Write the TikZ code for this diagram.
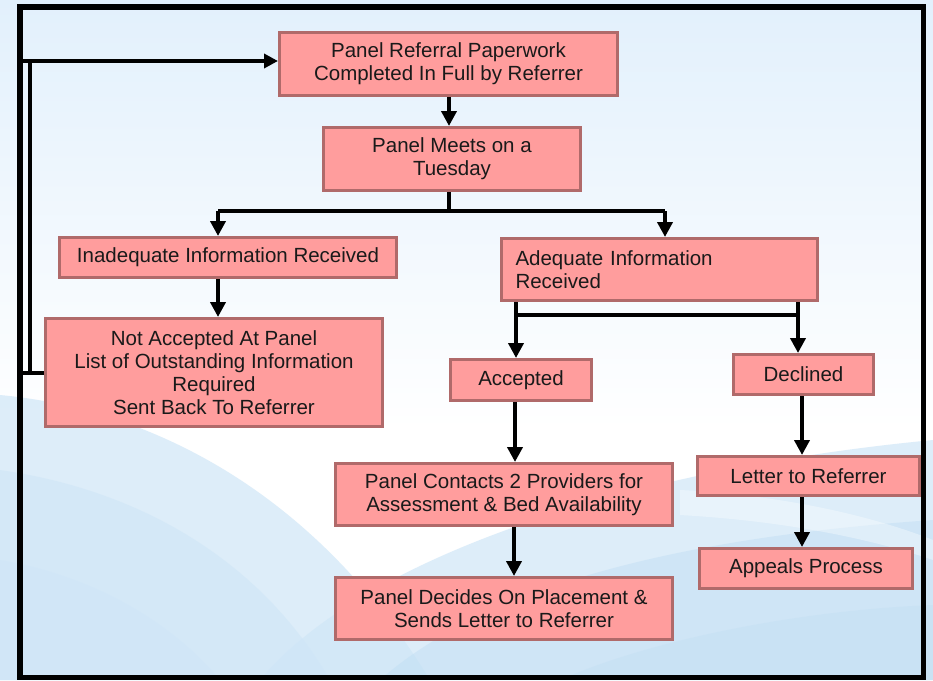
\documentclass[tikz,border=0pt]{standalone}
\usepackage{fontspec}
\setmainfont{Liberation Sans}
\usetikzlibrary{arrows.meta}
\definecolor{boxfill}{HTML}{FF9D9D}
\definecolor{boxline}{HTML}{B06A6A}
\definecolor{bgtop}{HTML}{E2F0FC}
\definecolor{waveA}{HTML}{CFE6F7}
\definecolor{waveB}{HTML}{BFDDF3}
\definecolor{txt}{HTML}{1A1A1A}
\tikzset{
  fbox/.style 2 args={draw=boxline, fill=boxfill, line width=3pt, inner sep=0pt,
    minimum width=#1pt-3pt, minimum height=#2pt-3pt, align=center, text=txt,
    font=\fontsize{20.5}{23}\selectfont},
  conn/.style={line width=4.5pt, draw=black},
  arr/.style={conn, -{Triangle[width=15pt,length=15pt]}},
}
\begin{document}
\begin{tikzpicture}[x=1pt,y=-1pt]
% background
\useasboundingbox (0,0) rectangle (933,680);
\fill[top color=bgtop, bottom color=white] (0,0) rectangle (933,430);
\fill[white] (0,430) rectangle (933,680);
\fill[waveA, opacity=0.7] (0,395) .. controls (160,410) and (320,500) .. (430,680) -- (0,680) -- cycle;
\fill[waveA, opacity=0.6] (0,470) .. controls (140,490) and (260,560) .. (330,680) -- (0,680) -- cycle;
\fill[waveA, opacity=0.6] (0,560) .. controls (90,575) and (170,620) .. (220,680) -- (0,680) -- cycle;
\fill[waveA, opacity=0.7] (260,680) .. controls (360,560) and (620,470) .. (933,440) -- (933,680) -- cycle;
\fill[waveB, opacity=0.45] (380,680) .. controls (470,600) and (640,540) .. (933,520) -- (933,680) -- cycle;
\fill[white, opacity=0.35] (680,490) .. controls (780,495) and (870,515) .. (933,540) -- (933,560) .. controls (860,535) and (770,520) .. (680,515) -- cycle;
\fill[waveB, opacity=0.35] (560,680) .. controls (650,640) and (800,610) .. (933,605) -- (933,680) -- cycle;

% nodes
\node[fbox={341}{66}] (paper) at (448.5,64) {Panel Referral Paperwork\\Completed In Full by Referrer};
\node[fbox={260}{66}] (tues) at (452,159) {Panel Meets on a\\Tuesday};
\node[fbox={340}{43}] (inad) at (228,257.5) {Inadequate Information Received};
\node[fbox={340}{111}] (notacc) at (214,372.5) {Not Accepted At Panel\\List of Outstanding Information\\Required\\Sent Back To Referrer};
\node[fbox={319}{65}, align=left, text width=288pt, inner xsep=14pt] (adeq) at (659.5,269.5) {Adequate Information\\Received};
\node[fbox={144}{44}] (acc) at (521,380) {Accepted};
\node[fbox={143}{43}] (decl) at (803.5,374.5) {Declined};
\node[fbox={340}{65}] (contacts) at (504,494.5) {Panel Contacts 2 Providers for\\Assessment \& Bed Availability};
\node[fbox={340}{65}] (decides) at (504,608.5) {Panel Decides On Placement \&\\Sends Letter to Referrer};
\node[fbox={225}{42}] (letter) at (808.5,476) {Letter to Referrer};
\node[fbox={216}{43}] (appeals) at (806,568.5) {Appeals Process};

% junction coordinates
\coordinate (j1) at (449,211);
\coordinate (jl) at (218,211);
\coordinate (jr) at (665,211);
\coordinate (al) at (516,315);
\coordinate (ar) at (798,315);
\coordinate (fb1) at (22,372.5);
\coordinate (fb2) at (29.5,372.5);
\coordinate (fb3) at (29.5,61);
\coordinate (fb4) at (22,61);

% connectors
\draw[arr] (paper.south -| j1) -- (tues.north -| j1);
\draw[conn] (tues.south -| j1) -- (j1);
\draw[conn] (jl) -- (jr);
\draw[arr] (jl) -- (inad.north -| jl);
\draw[arr] (jr) -- (adeq.north -| jr);
\draw[arr] (inad.south -| jl) -- (notacc.north -| jl);
\draw[conn] (adeq.south -| al) -- (al) -- (ar) -- (adeq.south -| ar);
\draw[arr] (al) -- (acc.north -| al);
\draw[arr] (ar) -- (decl.north -| ar);
\draw[arr] (acc.south -| 515,0) -- (contacts.north -| 515,0);
\draw[arr] (contacts.south -| 514,0) -- (decides.north -| 514,0);
\draw[arr] (decl.south -| 802,0) -- (letter.north -| 802,0);
\draw[arr] (letter.south -| 802,0) -- (appeals.north -| 802,0);
% feedback loop
\draw[line width=4pt] (notacc.west) -- (fb1);
\draw[line width=4pt] (fb2) -- (fb3);
\draw[line width=4pt, -{Triangle[width=14pt,length=14pt]}] (fb4) -- (fb4 -| paper.west);

% frame
\draw[line width=5.5pt] (20,7) rectangle (923.5,677.5);
\end{tikzpicture}
\end{document}
